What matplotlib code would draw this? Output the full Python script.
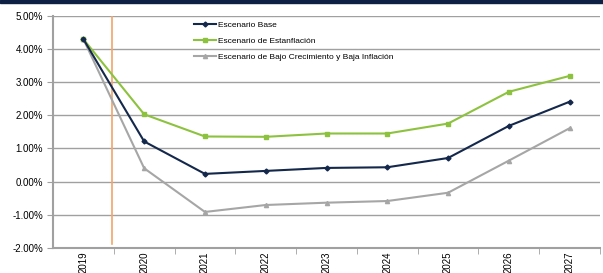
import matplotlib
matplotlib.use("Agg")
import matplotlib.pyplot as plt
from matplotlib.ticker import FuncFormatter, FixedLocator

plt.rcParams["font.family"] = ["Liberation Sans", "DejaVu Sans"]

YEARS = ["2019", "2020", "2021", "2022", "2023", "2024", "2025", "2026", "2027"]
BASE = [4.30, 1.21, 0.23, 0.32, 0.41, 0.43, 0.71, 1.68, 2.41]
ESTANFLACION = [4.30, 2.03, 1.36, 1.35, 1.45, 1.45, 1.75, 2.71, 3.19]
BAJO = [4.30, 0.40, -0.92, -0.71, -0.64, -0.59, -0.34, 0.63, 1.61]
LABELS = ["Escenario Base", "Escenario de Estanflación",
          "Escenario de Bajo Crecimiento y Baja Inflación"]

NAVY = "#14284B"
GREEN = "#8DC23F"
GRAY = "#A6A6A6"
ORANGE = "#F2A66A"

fig = plt.figure(figsize=(6.03, 2.73), dpi=100)
fig.patches.append(plt.Rectangle((0, 1 - 3 / 273), 1, 3 / 273, transform=fig.transFigure,
                                 color="#0E2145", zorder=0))
ax = fig.add_axes([53 / 603, 1 - 247.7 / 273, 547 / 603, (247.7 - 16) / 273])

x = range(len(YEARS))
ax.plot(x, BASE, color=NAVY, lw=1.5, marker="D", ms=2.5, label=LABELS[0], zorder=4)
ax.plot(x, ESTANFLACION, color=GREEN, lw=1.5, marker="s", ms=3.5, label=LABELS[1], zorder=3)
ax.plot(x, BAJO, color=GRAY, lw=1.5, marker="^", ms=3, label=LABELS[2], zorder=2)
ax.plot([0.47, 0.47], [5.0, -1.9], color=ORANGE, lw=1.2, zorder=1)

ax.set_xlim(-0.5, len(YEARS) - 0.5)
ax.set_ylim(-2, 5)
ax.set_yticks(range(-2, 6))
ax.yaxis.set_major_formatter(FuncFormatter(lambda v, p: f"{v:.2f}%"))
ax.grid(axis="y", color="#A0A0A0", lw=1)
ax.set_axisbelow(True)

ax.set_xticks(list(x))
ax.set_xticklabels(YEARS, rotation=90, fontsize=7)
ax.xaxis.set_minor_locator(FixedLocator([i + 0.5 for i in range(len(YEARS))]))
ax.tick_params(axis="x", which="major", length=0, pad=3)
ax.tick_params(axis="x", which="minor", length=4, color="#A0A0A0", direction="out")
ax.tick_params(axis="y", labelsize=7, length=4, color="#A0A0A0", pad=3)

for side in ["top", "right"]:
    ax.spines[side].set_visible(False)
for side in ["left", "bottom"]:
    ax.spines[side].set_color("#A0A0A0")
    ax.spines[side].set_linewidth(1.5)

ax.legend(loc="upper left", bbox_to_anchor=(194 / 603, 1 - 21 / 273), bbox_transform=fig.transFigure,
          frameon=False, fontsize=6, handlelength=2.6, handletextpad=0.25, labelspacing=1.0,
          borderpad=0, borderaxespad=0)

fig.savefig("out.png", dpi=100)
